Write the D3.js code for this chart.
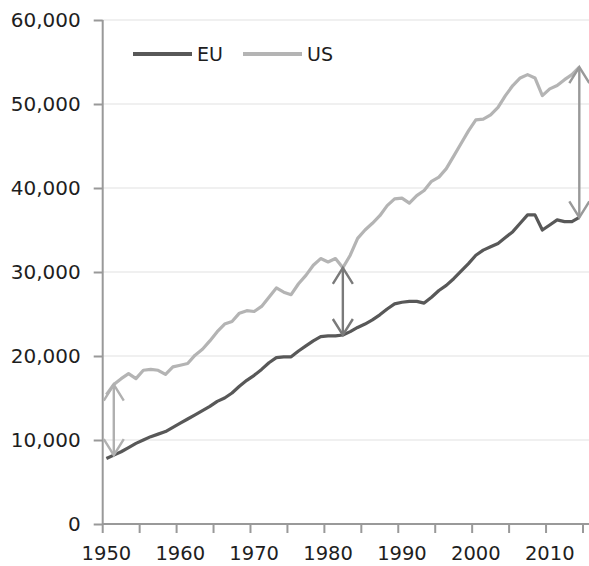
<!DOCTYPE html>
<html>
<head>
<meta charset="utf-8">
<script src="https://cdn.jsdelivr.net/npm/d3@7"></script>
<style>
  body { margin: 0; background: #fff; }
  text { font-family: "DejaVu Sans", sans-serif; fill: #1e1e1e; }
</style>
</head>
<body>
<svg width="589" height="566"></svg>
<script>
// data (thousands)
var years = d3.range(1950, 2015);
var euValues = [7.8, 8.2, 8.6, 9.1, 9.6, 10.0, 10.4, 10.7, 11.0, 11.5,
  12.0, 12.5, 13.0, 13.5, 14.0, 14.6, 15.0, 15.6, 16.4, 17.1,
  17.7, 18.4, 19.2, 19.8, 19.9, 19.9, 20.6, 21.2, 21.8, 22.3,
  22.4, 22.4, 22.5, 22.9, 23.4, 23.8, 24.3, 24.9, 25.6, 26.2,
  26.4, 26.5, 26.5, 26.3, 27.0, 27.8, 28.4, 29.2, 30.1, 31.0,
  32.0, 32.6, 33.0, 33.4, 34.1, 34.8, 35.8, 36.8, 36.8, 35.0,
  35.6, 36.2, 36.0, 36.0, 36.5];
var usValues = [15.4, 16.6, 17.3, 17.9, 17.3, 18.3, 18.4, 18.3, 17.8, 18.7,
  18.9, 19.1, 20.1, 20.8, 21.8, 22.9, 23.8, 24.1, 25.1, 25.4,
  25.3, 25.9, 27.0, 28.1, 27.6, 27.3, 28.6, 29.6, 30.8, 31.6,
  31.2, 31.6, 30.5, 32.0, 34.0, 35.0, 35.8, 36.7, 37.9, 38.7,
  38.8, 38.2, 39.1, 39.7, 40.8, 41.3, 42.3, 43.8, 45.3, 46.8,
  48.1, 48.2, 48.7, 49.6, 51.0, 52.2, 53.1, 53.5, 53.1, 51.0,
  51.8, 52.2, 52.9, 53.5, 54.4];
var seriesNames = ["EU", "US"];
var yTicks = [0, 10000, 20000, 30000, 40000, 50000, 60000];
var xLabels = [1950, 1960, 1970, 1980, 1990, 2000, 2010];
var gapYears = [1951, 1982, 2014];

var svg = d3.select("svg");
var width = +svg.attr("width");

var x = d3.scaleBand().domain(years).range([102.7, 583]).padding(0);
var y = d3.scaleLinear().domain([0, 60000]).range([524, 20]);
var cx = d => x(d) + x.bandwidth() / 2;

var axisColor = "#999";
var colors = { EU: "#585858", US: "#b4b4b4" };
var arrowColors = ["#b0b0b0", "#7a7a7a", "#999"];

// gridlines
svg.append("g")
  .selectAll("line")
  .data(yTicks.filter(d => d > 0))
  .enter()
  .append("line")
  .attr("x1", 102.7).attr("x2", width)
  .attr("y1", d => y(d)).attr("y2", d => y(d))
  .attr("stroke", "#ebebeb")
  .attr("stroke-width", 1.5);

// y axis
var yAxis = svg.append("g")
  .attr("transform", "translate(102.7,0)")
  .call(d3.axisLeft(y).tickValues(yTicks).tickSize(9).tickPadding(13)
    .tickFormat(d3.format(",")));
yAxis.select(".domain").remove();
yAxis.selectAll("line").attr("stroke", axisColor).attr("stroke-width", 2);
yAxis.selectAll("text").style("font-size", "20px").attr("fill", "#1e1e1e")
  .attr("font-family", null);
svg.append("line")
  .attr("x1", 102.7).attr("x2", 102.7)
  .attr("y1", y(60000)).attr("y2", y(0))
  .attr("stroke", axisColor).attr("stroke-width", 2);

// x axis: ticks on category boundaries every 5 years, labels every 10
var xTickPos = years.filter(d => d % 5 == 0).map(d => x(d)).concat([x.range()[1]]);
svg.append("line")
  .attr("x1", 102.7).attr("x2", width)
  .attr("y1", y(0)).attr("y2", y(0))
  .attr("stroke", axisColor).attr("stroke-width", 2);
svg.append("g")
  .selectAll("line")
  .data(xTickPos)
  .enter()
  .append("line")
  .attr("x1", d => d).attr("x2", d => d)
  .attr("y1", y(0)).attr("y2", y(0) + 9)
  .attr("stroke", axisColor).attr("stroke-width", 2);
svg.append("g")
  .selectAll("text")
  .data(xLabels)
  .enter()
  .append("text")
  .attr("x", d => cx(d))
  .attr("y", 560)
  .attr("text-anchor", "middle")
  .style("font-size", "19.5px")
  .text(d => d);

// lines
var line = d3.line()
  .x((d, i) => cx(years[i]))
  .y(d => y(d * 1000));

svg.append("path")
  .datum(usValues)
  .attr("d", line)
  .attr("fill", "none")
  .attr("stroke", colors.US)
  .attr("stroke-width", 3.2)
  .attr("stroke-linejoin", "round");

svg.append("path")
  .datum(euValues)
  .attr("d", line)
  .attr("fill", "none")
  .attr("stroke", colors.EU)
  .attr("stroke-width", 3.2)
  .attr("stroke-linejoin", "round");

// gap arrows, double headed
var arrows = svg.append("g")
  .selectAll("g")
  .data(gapYears)
  .enter()
  .append("g")
  .attr("stroke", (d, i) => arrowColors[i])
  .attr("stroke-width", 2.4)
  .attr("fill", "none");

arrows.append("line")
  .attr("x1", d => cx(d)).attr("x2", d => cx(d))
  .attr("y1", d => y(usValues[years.indexOf(d)] * 1000))
  .attr("y2", d => y(euValues[years.indexOf(d)] * 1000));

arrows.append("path")
  .attr("d", d => {
    var px = cx(d);
    var top = y(usValues[years.indexOf(d)] * 1000);
    var bot = y(euValues[years.indexOf(d)] * 1000);
    return `M${px - 10},${top + 16} L${px},${top} L${px + 10},${top + 16}` +
      `M${px - 10},${bot - 16} L${px},${bot} L${px + 10},${bot - 16}`;
  });

// legend
var legend = svg.append("g")
  .selectAll("g")
  .data(seriesNames)
  .enter()
  .append("g")
  .attr("transform", (d, i) => `translate(${133 + i * 110},54)`);

legend.append("line")
  .attr("x1", 0).attr("x2", 59)
  .attr("stroke", d => colors[d])
  .attr("stroke-width", 4);

legend.append("text")
  .attr("x", 64)
  .attr("dy", "0.35em")
  .style("font-size", "19px")
  .text(d => d);
</script>
</body>
</html>
